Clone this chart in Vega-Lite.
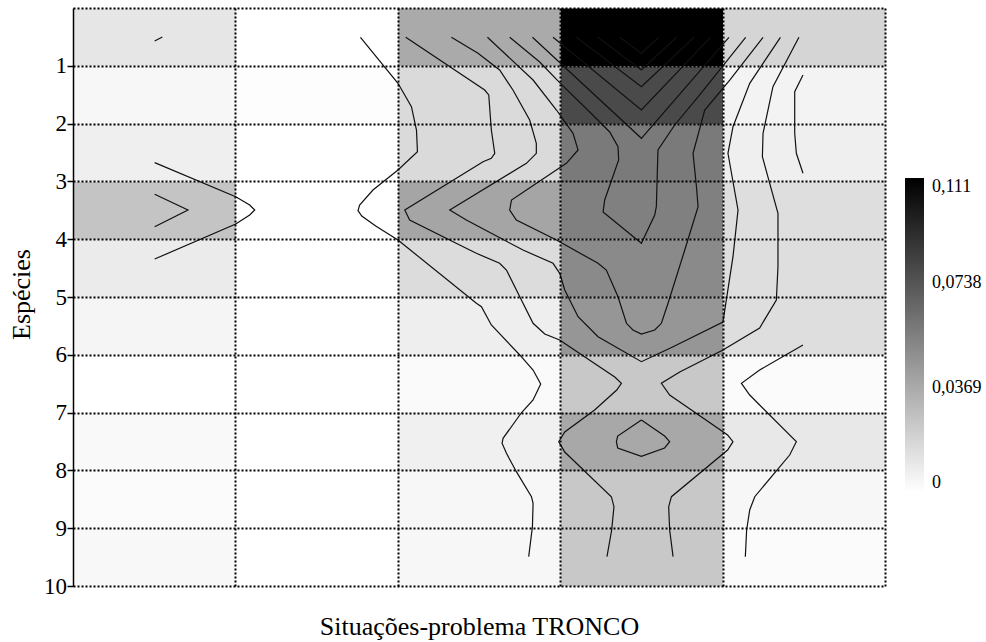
{
 "$schema": "https://vega.github.io/schema/vega-lite/v6.json",
 "autosize": {"type": "none"},
 "width": 812,
 "height": 578,
 "padding": {"left": 73, "top": 8, "right": 101, "bottom": 56},
 "background": "white",
 "config": {"view": {"stroke": null}, "font": "Times New Roman"},
 "datasets": {
  "cells": [
   {"x":0,"y":0,"v":0.0109},{"x":0,"y":1,"v":0.0035},{"x":0,"y":2,"v":0.0070},{"x":0,"y":3,"v":0.0257},{"x":0,"y":4,"v":0.0087},{"x":0,"y":5,"v":0.0044},{"x":0,"y":6,"v":0.0},{"x":0,"y":7,"v":0.0026},{"x":0,"y":8,"v":0.0017},{"x":0,"y":9,"v":0.0030},
   {"x":1,"y":0,"v":0.0},{"x":1,"y":1,"v":0.0009},{"x":1,"y":2,"v":0.0},{"x":1,"y":3,"v":0.0},{"x":1,"y":4,"v":0.0},{"x":1,"y":5,"v":0.0},{"x":1,"y":6,"v":0.0},{"x":1,"y":7,"v":0.0},{"x":1,"y":8,"v":0.0},{"x":1,"y":9,"v":0.0},
   {"x":2,"y":0,"v":0.0370},{"x":2,"y":1,"v":0.0161},{"x":2,"y":2,"v":0.0161},{"x":2,"y":3,"v":0.0392},{"x":2,"y":4,"v":0.0152},{"x":2,"y":5,"v":0.0074},{"x":2,"y":6,"v":0.0022},{"x":2,"y":7,"v":0.0065},{"x":2,"y":8,"v":0.0035},{"x":2,"y":9,"v":0.0035},
   {"x":3,"y":0,"v":0.111},{"x":3,"y":1,"v":0.0788},{"x":3,"y":2,"v":0.0579},{"x":3,"y":3,"v":0.0553},{"x":3,"y":4,"v":0.0509},{"x":3,"y":5,"v":0.0457},{"x":3,"y":6,"v":0.0239},{"x":3,"y":7,"v":0.0379},{"x":3,"y":8,"v":0.0239},{"x":3,"y":9,"v":0.0239},
   {"x":4,"y":0,"v":0.0183},{"x":4,"y":1,"v":0.0052},{"x":4,"y":2,"v":0.0070},{"x":4,"y":3,"v":0.0144},{"x":4,"y":4,"v":0.0144},{"x":4,"y":5,"v":0.0144},{"x":4,"y":6,"v":0.0017},{"x":4,"y":7,"v":0.0100},{"x":4,"y":8,"v":0.0035},{"x":4,"y":9,"v":0.0017}
  ],
  "contours": [
   {"g":"T","i":0,"x":0.503,"y":0.571},{"g":"T","i":1,"x":0.550,"y":0.502},
   {"g":"C1a","i":0,"x":0.503,"y":2.676},{"g":"C1a","i":1,"x":1.002,"y":3.265},{"g":"C1a","i":2,"x":1.088,"y":3.408},{"g":"C1a","i":3,"x":1.119,"y":3.495},{"g":"C1a","i":4,"x":1.088,"y":3.581},{"g":"C1a","i":5,"x":1.002,"y":3.737},{"g":"C1a","i":6,"x":0.503,"y":4.343},
   {"g":"C1b","i":0,"x":0.503,"y":3.223},{"g":"C1b","i":1,"x":0.708,"y":3.495},{"g":"C1b","i":2,"x":0.503,"y":3.784},
   {"g":"L1","i":0,"x":1.770,"y":0.507},{"g":"L1","i":1,"x":2.001,"y":1.303},{"g":"L1","i":2,"x":2.084,"y":1.708},{"g":"L1","i":3,"x":2.115,"y":2.111},{"g":"L1","i":4,"x":2.121,"y":2.486},{"g":"L1","i":5,"x":2.001,"y":2.803},{"g":"L1","i":6,"x":1.847,"y":3.149},{"g":"L1","i":7,"x":1.765,"y":3.408},{"g":"L1","i":8,"x":1.755,"y":3.507},{"g":"L1","i":9,"x":1.778,"y":3.599},{"g":"L1","i":10,"x":1.864,"y":3.772},{"g":"L1","i":11,"x":2.001,"y":4.014},{"g":"L1","i":12,"x":2.484,"y":5.109},{"g":"L1","i":13,"x":2.515,"y":5.168},{"g":"L1","i":14,"x":2.576,"y":5.484},{"g":"L1","i":15,"x":2.751,"y":6.003},{"g":"L1","i":16,"x":2.833,"y":6.263},{"g":"L1","i":17,"x":2.880,"y":6.505},{"g":"L1","i":18,"x":2.833,"y":6.782},{"g":"L1","i":19,"x":2.761,"y":7.003},{"g":"L1","i":20,"x":2.648,"y":7.445},{"g":"L1","i":21,"x":2.642,"y":7.531},{"g":"L1","i":22,"x":2.669,"y":7.704},{"g":"L1","i":23,"x":2.730,"y":8.022},{"g":"L1","i":24,"x":2.823,"y":8.455},{"g":"L1","i":25,"x":2.833,"y":8.569},{"g":"L1","i":26,"x":2.829,"y":8.974},{"g":"L1","i":27,"x":2.806,"y":9.493},
   {"g":"L2","i":0,"x":2.049,"y":0.507},{"g":"L2","i":1,"x":2.535,"y":1.419},{"g":"L2","i":2,"x":2.560,"y":1.505},{"g":"L2","i":3,"x":2.576,"y":2.111},{"g":"L2","i":4,"x":2.597,"y":2.514},{"g":"L2","i":5,"x":2.576,"y":2.600},{"g":"L2","i":6,"x":2.525,"y":2.659},{"g":"L2","i":7,"x":2.043,"y":3.495},{"g":"L2","i":8,"x":2.073,"y":3.668},{"g":"L2","i":9,"x":2.443,"y":4.187},{"g":"L2","i":10,"x":2.484,"y":4.244},{"g":"L2","i":11,"x":2.627,"y":4.417},{"g":"L2","i":12,"x":2.669,"y":4.533},{"g":"L2","i":13,"x":2.751,"y":4.995},{"g":"L2","i":14,"x":2.833,"y":5.455},{"g":"L2","i":15,"x":2.905,"y":5.640},{"g":"L2","i":16,"x":2.997,"y":5.744},{"g":"L2","i":17,"x":3.058,"y":5.860},{"g":"L2","i":18,"x":3.336,"y":6.384},{"g":"L2","i":19,"x":3.377,"y":6.493},{"g":"L2","i":20,"x":3.348,"y":6.609},{"g":"L2","i":21,"x":3.212,"y":6.955},{"g":"L2","i":22,"x":3.028,"y":7.336},{"g":"L2","i":23,"x":2.991,"y":7.503},{"g":"L2","i":24,"x":3.028,"y":7.682},{"g":"L2","i":25,"x":3.315,"y":8.455},{"g":"L2","i":26,"x":3.331,"y":8.628},{"g":"L2","i":27,"x":3.317,"y":9.031},{"g":"L2","i":28,"x":3.288,"y":9.493},
   {"g":"L3","i":0,"x":2.330,"y":0.507},{"g":"L3","i":1,"x":2.494,"y":0.784},{"g":"L3","i":2,"x":2.627,"y":1.073},{"g":"L3","i":3,"x":2.709,"y":1.419},{"g":"L3","i":4,"x":2.812,"y":1.938},{"g":"L3","i":5,"x":2.853,"y":2.341},{"g":"L3","i":6,"x":2.853,"y":2.514},{"g":"L3","i":7,"x":2.792,"y":2.687},{"g":"L3","i":8,"x":2.320,"y":3.495},{"g":"L3","i":9,"x":2.422,"y":3.668},{"g":"L3","i":10,"x":2.771,"y":4.187},{"g":"L3","i":11,"x":2.956,"y":4.417},{"g":"L3","i":12,"x":2.997,"y":4.590},{"g":"L3","i":13,"x":3.028,"y":4.879},{"g":"L3","i":14,"x":3.110,"y":5.341},{"g":"L3","i":15,"x":3.233,"y":5.687},{"g":"L3","i":16,"x":3.500,"y":6.119},{"g":"L3","i":17,"x":3.695,"y":5.860},{"g":"L3","i":18,"x":4.002,"y":5.433},{"g":"L3","i":19,"x":4.064,"y":4.303},{"g":"L3","i":20,"x":4.095,"y":3.495},{"g":"L3","i":21,"x":4.033,"y":2.514},{"g":"L3","i":22,"x":4.064,"y":2.054},{"g":"L3","i":23,"x":4.167,"y":1.303},{"g":"L3","i":24,"x":4.356,"y":0.507},
   {"g":"L4","i":0,"x":2.552,"y":0.507},{"g":"L4","i":1,"x":2.833,"y":1.246},{"g":"L4","i":2,"x":2.977,"y":1.765},{"g":"L4","i":3,"x":3.079,"y":2.168},{"g":"L4","i":4,"x":3.110,"y":2.457},{"g":"L4","i":5,"x":3.038,"y":2.687},{"g":"L4","i":6,"x":2.700,"y":3.322},{"g":"L4","i":7,"x":2.689,"y":3.495},{"g":"L4","i":8,"x":2.730,"y":3.668},{"g":"L4","i":9,"x":2.977,"y":4.014},{"g":"L4","i":10,"x":3.233,"y":4.417},{"g":"L4","i":11,"x":3.284,"y":4.533},{"g":"L4","i":12,"x":3.356,"y":4.995},{"g":"L4","i":13,"x":3.408,"y":5.455},{"g":"L4","i":14,"x":3.448,"y":5.571},{"g":"L4","i":15,"x":3.500,"y":5.640},{"g":"L4","i":16,"x":3.582,"y":5.571},{"g":"L4","i":17,"x":3.623,"y":5.455},{"g":"L4","i":18,"x":3.664,"y":5.109},{"g":"L4","i":19,"x":3.767,"y":4.187},{"g":"L4","i":20,"x":3.849,"y":3.438},{"g":"L4","i":21,"x":3.839,"y":3.092},{"g":"L4","i":22,"x":3.818,"y":2.514},{"g":"L4","i":23,"x":3.890,"y":1.765},{"g":"L4","i":24,"x":4.044,"y":1.246},{"g":"L4","i":25,"x":4.249,"y":0.507},
   {"g":"Y","i":0,"x":2.689,"y":0.507},{"g":"Y","i":1,"x":2.874,"y":0.934},{"g":"Y","i":2,"x":3.001,"y":1.303},{"g":"Y","i":3,"x":3.182,"y":1.799},{"g":"Y","i":4,"x":3.305,"y":2.145},{"g":"Y","i":5,"x":3.356,"y":2.400},{"g":"Y","i":6,"x":3.360,"y":2.630},{"g":"Y","i":7,"x":3.274,"y":3.322},{"g":"Y","i":8,"x":3.264,"y":3.529},{"g":"Y","i":9,"x":3.500,"y":4.071},{"g":"Y","i":10,"x":3.582,"y":3.581},{"g":"Y","i":11,"x":3.592,"y":3.438},{"g":"Y","i":12,"x":3.602,"y":2.457},{"g":"Y","i":13,"x":3.705,"y":2.024},{"g":"Y","i":14,"x":3.859,"y":1.505},{"g":"Y","i":15,"x":4.142,"y":0.507},
   {"g":"V1","i":0,"x":3.366,"y":0.507},{"g":"V1","i":1,"x":3.500,"y":0.784},{"g":"V1","i":2,"x":3.607,"y":0.507},
   {"g":"V2","i":0,"x":3.233,"y":0.507},{"g":"V2","i":1,"x":3.500,"y":1.073},{"g":"V2","i":2,"x":3.716,"y":0.507},
   {"g":"V3","i":0,"x":3.100,"y":0.507},{"g":"V3","i":1,"x":3.500,"y":1.362},{"g":"V3","i":2,"x":3.824,"y":0.507},
   {"g":"V4","i":0,"x":2.956,"y":0.507},{"g":"V4","i":1,"x":3.500,"y":1.765},{"g":"V4","i":2,"x":3.925,"y":0.507},
   {"g":"V5","i":0,"x":2.829,"y":0.507},{"g":"V5","i":1,"x":3.500,"y":2.254},{"g":"V5","i":2,"x":4.039,"y":0.507},
   {"g":"XR","i":0,"x":4.470,"y":0.507},{"g":"XR","i":1,"x":4.310,"y":1.362},{"g":"XR","i":2,"x":4.249,"y":2.168},{"g":"XR","i":3,"x":4.245,"y":2.573},{"g":"XR","i":4,"x":4.290,"y":3.033},{"g":"XR","i":5,"x":4.341,"y":3.552},{"g":"XR","i":6,"x":4.341,"y":4.476},{"g":"XR","i":7,"x":4.331,"y":5.052},{"g":"XR","i":8,"x":4.228,"y":5.536},{"g":"XR","i":9,"x":4.002,"y":5.917},{"g":"XR","i":10,"x":3.736,"y":6.298},{"g":"XR","i":11,"x":3.623,"y":6.493},{"g":"XR","i":12,"x":3.674,"y":6.696},{"g":"XR","i":13,"x":3.808,"y":6.955},{"g":"XR","i":14,"x":4.031,"y":7.388},{"g":"XR","i":15,"x":4.064,"y":7.503},{"g":"XR","i":16,"x":4.031,"y":7.647},{"g":"XR","i":17,"x":3.685,"y":8.455},{"g":"XR","i":18,"x":3.668,"y":8.628},{"g":"XR","i":19,"x":3.674,"y":9.031},{"g":"XR","i":20,"x":3.695,"y":9.493},
   {"g":"R","i":0,"x":4.495,"y":5.830},{"g":"R","i":1,"x":4.228,"y":6.263},{"g":"R","i":2,"x":4.116,"y":6.493},{"g":"R","i":3,"x":4.167,"y":6.696},{"g":"R","i":4,"x":4.454,"y":7.503},{"g":"R","i":5,"x":4.413,"y":7.734},{"g":"R","i":6,"x":4.198,"y":8.455},{"g":"R","i":7,"x":4.167,"y":8.685},{"g":"R","i":8,"x":4.148,"y":9.031},{"g":"R","i":9,"x":4.140,"y":9.493},
   {"g":"S","i":0,"x":4.495,"y":1.159},{"g":"S","i":1,"x":4.444,"y":1.448},{"g":"S","i":2,"x":4.444,"y":2.168},{"g":"S","i":3,"x":4.454,"y":2.514},{"g":"S","i":4,"x":4.495,"y":2.860},
   {"g":"D","i":0,"x":3.500,"y":7.128},{"g":"D","i":1,"x":3.643,"y":7.405},{"g":"D","i":2,"x":3.674,"y":7.503},{"g":"D","i":3,"x":3.643,"y":7.612},{"g":"D","i":4,"x":3.500,"y":7.756},{"g":"D","i":5,"x":3.354,"y":7.612},{"g":"D","i":6,"x":3.346,"y":7.503},{"g":"D","i":7,"x":3.354,"y":7.405},{"g":"D","i":8,"x":3.500,"y":7.128}
  ]
 },
 "layer": [
  {
   "data": {"name": "cells"},
   "mark": {"type": "rect"},
   "encoding": {
    "x": {"field": "x", "type": "quantitative", "bin": {"binned": true, "step": 1},
     "scale": {"domain": [0, 5], "nice": false, "zero": false},
     "axis": {"orient": "bottom", "values": [1, 2, 3, 4, 5], "labels": false, "ticks": false, "domain": false,
      "grid": true, "gridColor": "black", "gridDash": [2, 2], "gridWidth": 2, "gridOpacity": 1,
      "title": "Situações-problema TRONCO", "titleFont": "Times New Roman", "titleFontSize": 26, "titleFontWeight": "normal", "titleColor": "black", "titlePadding": 27, "zindex": 1}},
    "y": {"field": "y", "type": "quantitative", "bin": {"binned": true, "step": 1},
     "scale": {"domain": [0, 10], "nice": false, "zero": false, "reverse": true},
     "axis": {"orient": "left", "values": [0, 1, 2, 3, 4, 5, 6, 7, 8, 9, 10],
      "labelExpr": "datum.value == 0 ? '' : format(datum.value, 'd')",
      "tickOpacity": {"condition": {"test": "datum.value == 0", "value": 0}, "value": 1},
      "tickSize": 6, "tickWidth": 1.5, "tickColor": "black", "labelPadding": 0.5,
      "labelFont": "Times New Roman", "labelFontSize": 23, "labelColor": "black",
      "domain": true, "domainColor": "black", "domainWidth": 1.5,
      "grid": true, "gridColor": "black", "gridDash": [2, 2], "gridWidth": 2, "gridOpacity": 1,
      "title": "Espécies", "titleFont": "Times New Roman", "titleFontSize": 26, "titleFontWeight": "normal", "titleColor": "black",
      "titleX": -52, "titleY": 286, "titleAngle": 270, "titleAlign": "center", "titleBaseline": "middle", "zindex": 1}},
    "color": {"field": "v", "type": "quantitative",
     "scale": {"type": "linear", "domain": [0, 0.111], "range": ["#ffffff", "#000000"], "interpolate": "rgb"},
     "legend": {"orient": "none", "legendX": 832, "legendY": 170, "direction": "vertical", "gradientLength": 314, "gradientThickness": 19, "gradientStrokeWidth": 0,
      "title": null, "values": [0, 0.0369, 0.0738, 0.111], "labelExpr": "replace(format(datum.value, ''), '.', ',')",
      "labelFont": "Times New Roman", "labelFontSize": 18, "labelColor": "black", "labelOffset": 8, "labelBaseline": "middle", "labelOverlap": false}}
   }
  },
  {
   "data": {"name": "contours"},
   "mark": {"type": "line", "color": "#111111", "strokeWidth": 1.2},
   "encoding": {
    "x": {"field": "x", "type": "quantitative"},
    "y": {"field": "y", "type": "quantitative"},
    "detail": {"field": "g"},
    "order": {"field": "i", "type": "quantitative"}
   }
  }
 ]
}
